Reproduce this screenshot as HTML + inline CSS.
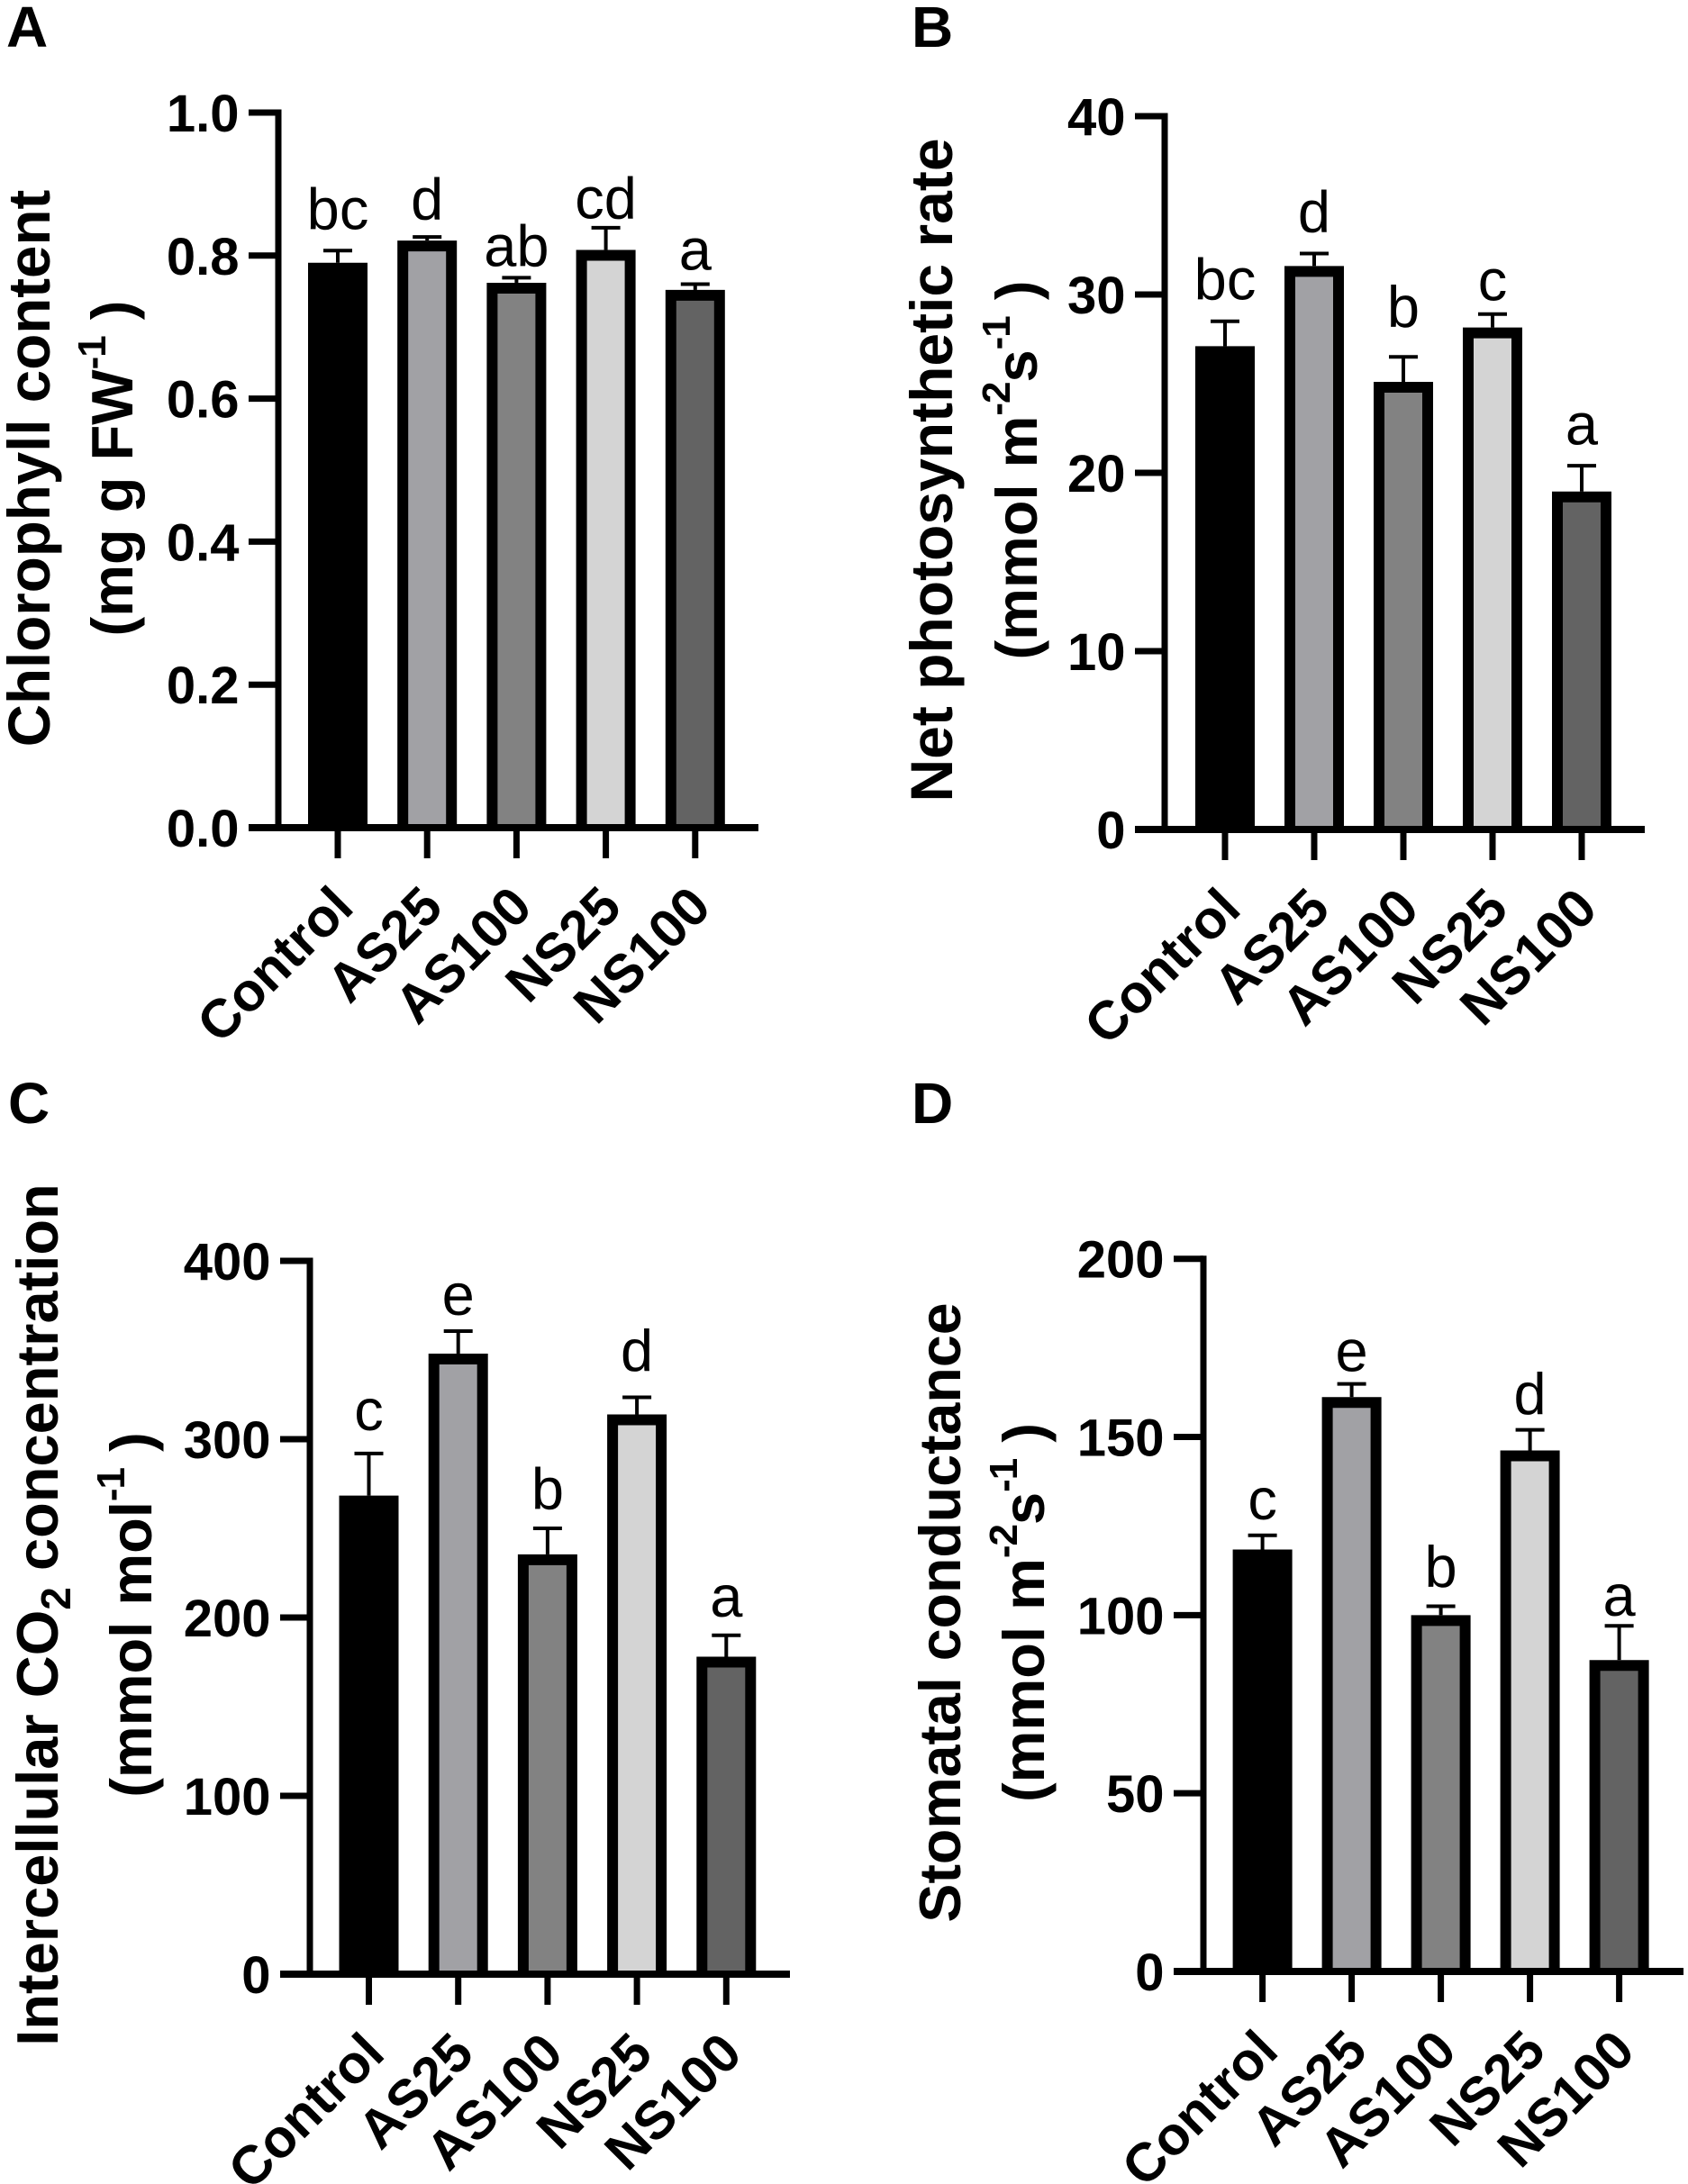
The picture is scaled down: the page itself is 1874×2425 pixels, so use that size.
<!DOCTYPE html>
<html lang="en">
<head>
<meta charset="utf-8">
<title>Photosynthetic parameters by treatment</title>
<style>
html,body{margin:0;padding:0;background:#fff;}
svg{display:block;}
text{font-family:"Liberation Sans",Arial,sans-serif;fill:#000;}
.b{font-weight:bold;}
</style>
</head>
<body>
<svg id="figure" xmlns="http://www.w3.org/2000/svg" width="1874" height="2425" viewBox="0 0 1874 2425"></svg>
<script>
const categories = ["Control", "AS25", "AS100", "NS25", "NS100"];
const barFills = ["#000000", "#a1a1a5", "#828282", "#d4d4d4", "#636363"];

const ticksA = [0, 0.2, 0.4, 0.6, 0.8, 1.0];
const tickLabelsA = ["0.0", "0.2", "0.4", "0.6", "0.8", "1.0"];
const valuesA = [0.79, 0.821, 0.762, 0.808, 0.752];
const errorsA = [0.017, 0.005, 0.007, 0.031, 0.008];
const lettersA = ["bc", "d", "ab", "cd", "a"];
const letterGapsA = [0.030, 0.025, 0.016, 0.013, 0.020];

const ticksB = [0, 10, 20, 30, 40];
const tickLabelsB = ["0", "10", "20", "30", "40"];
const valuesB = [27.1, 31.6, 25.1, 28.15, 18.95];
const errorsB = [1.4, 0.7, 1.4, 0.75, 1.45];
const lettersB = ["bc", "d", "b", "c", "a"];
const letterGapsB = [1.21, 1.21, 1.67, 0.76, 1.19];

const ticksC = [0, 100, 200, 300, 400];
const tickLabelsC = ["0", "100", "200", "300", "400"];
const valuesC = [268.4, 348, 235.4, 313.9, 178];
const errorsC = [23.6, 12.6, 14.6, 9.6, 12];
const lettersC = ["c", "e", "b", "d", "a"];
const letterGapsC = [13.1, 9.1, 10.9, 14.9, 10.6];

const ticksD = [0, 50, 100, 150, 200];
const tickLabelsD = ["0", "50", "100", "150", "200"];
const valuesD = [118.4, 161.2, 100, 146.2, 87.4];
const errorsD = [4, 3.7, 2.5, 5.8, 9.6];
const lettersD = ["c", "e", "b", "d", "a"];
const letterGapsD = [4.5, 3.5, 5.4, 4.4, 2.8];

const NS = "http://www.w3.org/2000/svg";
const fig = document.getElementById("figure");

function node(parent, tag, attrs, content) {
  const el = document.createElementNS(NS, tag);
  for (const k in attrs) el.setAttribute(k, attrs[k]);
  if (content !== undefined) el.textContent = content;
  parent.appendChild(el);
  return el;
}

function addTitleParts(textEl, parts) {
  parts.forEach(function (p) {
    const t = document.createElementNS(NS, "tspan");
    t.textContent = p.s;
    if (p.dy) t.setAttribute("dy", p.dy);
    if (p.size) t.setAttribute("font-size", p.size);
    if (p.spacing) t.setAttribute("letter-spacing", p.spacing);
    textEl.appendChild(t);
  });
}

function drawPanel(cfg) {
  const g = node(fig, "g", {});
  
  

  const yScale = function (v) { return cfg.y0 - (v / cfg.max) * (cfg.y0 - cfg.yTop); };
  const xScale = function (i) { return cfg.xFirst + i * cfg.step; };

  const letter = node(g, "text", {x: cfg.letterX, y: cfg.letterY, "font-size": 64, "class": "b"}, cfg.id);
  
  

  cfg.titleLines.forEach(function (line, li) {
    const t = node(g, "text", {
      "font-size": line.size || 65, "class": "b", "text-anchor": "middle",
      transform: "translate(" + line.x + "," + cfg.titleY + ") rotate(-90)"
    });
    
    
    addTitleParts(t, line.parts);
  });

  categories.forEach(function (name, i) {
    const cx = xScale(i);
    const top = yScale(cfg.values[i]);
    const errTop = yScale(cfg.values[i] + cfg.errors[i]);

    const stem = node(g, "line", {x1: cx, x2: cx, y1: top, y2: errTop, stroke: "#000", "stroke-width": 4});
    
    

    const cap = node(g, "line", {x1: cx - 16, x2: cx + 16, y1: errTop, y2: errTop, stroke: "#000", "stroke-width": 4});
    
    

    const bar = node(g, "path", {
      d: "M" + (cx - 27) + "," + cfg.y0 + " V" + (top + 6) + " H" + (cx + 27) + " V" + cfg.y0,
      fill: barFills[i], stroke: "#000", "stroke-width": 12
    });
    
    

    const sig = node(g, "text", {
      x: cx, y: yScale(cfg.values[i] + cfg.errors[i] + cfg.gaps[i]),
      "font-size": 65, "text-anchor": "middle"
    }, cfg.letters[i]);
    
    

    const tick = node(g, "line", {x1: cx, x2: cx, y1: cfg.y0, y2: cfg.y0 + 34, stroke: "#000", "stroke-width": 7});
    
    

    const lab = node(g, "text", {
      "font-size": 60, "class": "b", "text-anchor": "end",
      transform: "translate(" + (cx + 20) + "," + (cfg.y0 + 91) + ") rotate(-45)"
    }, name);
    
    
  });

  const spine = node(g, "line", {
    x1: cfg.spineX, x2: cfg.spineX, y1: cfg.yTop - 3.5, y2: cfg.y0,
    stroke: "#000", "stroke-width": 7
  });
  
  

  const base = node(g, "line", {
    x1: cfg.spineX - 33, x2: cfg.spineX + 533, y1: cfg.y0, y2: cfg.y0,
    stroke: "#000", "stroke-width": 8
  });
  
  

  cfg.ticks.forEach(function (v, i) {
    const y = yScale(v);
    const tick = node(g, "line", {x1: cfg.spineX - 33, x2: cfg.spineX, y1: y, y2: y, stroke: "#000", "stroke-width": 7});
    
    

    const lab = node(g, "text", {
      x: cfg.spineX - 43.5, y: y + 21, "font-size": 58, "class": "b", "text-anchor": "end"
    }, cfg.tickLabels[i]);
    
    
  });
}

drawPanel({
  id: "A", letterX: 7, letterY: 52, max: 1, y0: 919, yTop: 125,
  spineX: 309, xFirst: 375, step: 99.2,
  ticks: ticksA, tickLabels: tickLabelsA, values: valuesA, errors: errorsA, letters: lettersA, gaps: letterGapsA,
  titleY: 520,
  titleLines: [
    {x: 55, size: 65.5, parts: [{s: "Chlorophyll content"}]},
    {x: 147, parts: [{s: "(mg g FW"}, {s: "-1", dy: -30, size: 44, spacing: -1}, {s: " )", dy: 30}]}
  ]
});

drawPanel({
  id: "B", letterX: 1012, letterY: 52, max: 40, y0: 921, yTop: 129,
  spineX: 1293, xFirst: 1360, step: 99,
  ticks: ticksB, tickLabels: tickLabelsB, values: valuesB, errors: errorsB, letters: lettersB, gaps: letterGapsB,
  titleY: 522,
  titleLines: [
    {x: 1057, size: 66, parts: [{s: "Net photosynthetic rate"}]},
    {x: 1151, parts: [{s: "(mmol m"}, {s: "-2", dy: -30, size: 44, spacing: -1}, {s: "s", dy: 30}, {s: "-1", dy: -30, size: 44, spacing: -1}, {s: " )", dy: 30}]}
  ]
});

drawPanel({
  id: "C", letterX: 9, letterY: 1247, max: 400, y0: 2192, yTop: 1400,
  spineX: 344, xFirst: 409.5, step: 99.2,
  ticks: ticksC, tickLabels: tickLabelsC, values: valuesC, errors: errorsC, letters: lettersC, gaps: letterGapsC,
  titleY: 1793,
  titleLines: [
    {x: 64, parts: [{s: "Intercellular CO"}, {s: "2", dy: 14, size: 46}, {s: " concentration", dy: -14}]},
    {x: 168, parts: [{s: "(mmol mol"}, {s: "-1", dy: -30, size: 44, spacing: -1}, {s: " )", dy: 30}]}
  ]
});

drawPanel({
  id: "D", letterX: 1012, letterY: 1247, max: 200, y0: 2189, yTop: 1397.7,
  spineX: 1336, xFirst: 1401.6, step: 99,
  ticks: ticksD, tickLabels: tickLabelsD, values: valuesD, errors: errorsD, letters: lettersD, gaps: letterGapsD,
  titleY: 1790.5,
  titleLines: [
    {x: 1066, size: 64.5, parts: [{s: "Stomatal conductance"}]},
    {x: 1159, parts: [{s: "(mmol m"}, {s: "-2", dy: -30, size: 44, spacing: -1}, {s: "s", dy: 30}, {s: "-1", dy: -30, size: 44, spacing: -1}, {s: " )", dy: 30}]}
  ]
});
</script>
</body>
</html>
